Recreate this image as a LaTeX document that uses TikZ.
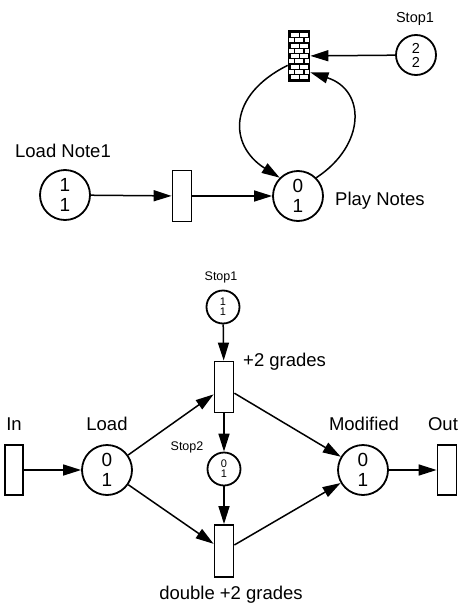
\documentclass[tikz,border=0pt]{standalone}
\usepackage{fontspec}
\setmainfont{Liberation Sans}
\usetikzlibrary{arrows.meta,calc}
\tikzset{
  place/.style={circle,draw,line width=1.8pt,minimum size=50pt,inner sep=0pt,align=center,font=\fontsize{19}{20}\selectfont},
  smallplace/.style={place,minimum size=33pt,font=\fontsize{11}{10}\selectfont},
  midplace/.style={place,minimum size=40pt,font=\fontsize{14.5}{14}\selectfont},
  trans/.style={rectangle,draw,line width=1.8pt,minimum width=19pt,minimum height=51pt,inner sep=0pt},
  arc/.style={line width=1.5pt,-{Triangle[length=18pt,width=11pt]}},
  lbl/.style={font=\fontsize{18.5}{20}\selectfont,inner sep=0pt},
  slbl/.style={font=\fontsize{12.5}{14}\selectfont,inner sep=0pt},
}
\begin{document}
\begin{tikzpicture}[x=1pt,y=1pt]
\useasboundingbox (0,0) rectangle (460,-605);
% ---------- top net ----------
\node[place] (lnote) at (65,-195) {1\\1};
\node[trans] (t0) at (182,-196) {};
\node[place] (pn) at (298,-196) {0\\1};
\node[trans,minimum width=21pt,minimum height=51pt,fill=black,
  path picture={
    \foreach \j in {0,...,9}{
      \pgfmathsetmacro{\off}{mod(\j,2)*4.75}
      \foreach \k in {-1,...,2}{
        \fill[white] ([xshift=\off pt+\k*9.5pt+2pt,yshift=-\j*5.3pt-2.4pt]path picture bounding box.north west) rectangle ++(8,-4);
      }
    }
  }] (brick) at (299,-56) {};
\node[midplace] (stopA) at (416,-55) {2\\2};
\node[lbl,anchor=base] (llnote) at (63,-157) {Load Note1};
\node[lbl,anchor=base west] (lpn) at (335,-205) {Play Notes};
\node[font=\fontsize{14.5}{16}\selectfont,inner sep=0pt,anchor=base] (lstopA) at (415,-23) {Stop1};
\draw[arc] (lnote) -- (t0);
\draw[arc] (t0) -- (pn);
\draw[arc] (stopA) -- (brick);
\draw[arc] ($(brick.south west)+(0,17)$) .. controls (228,-95) and (228,-145) .. (pn.135);
\draw[arc] (pn.45) .. controls (366,-145) and (366,-90) .. ($(brick.south east)+(0,10)$);
% ---------- bottom net ----------
\node[smallplace] (stopB) at (223,-307) {1\\1};
\node[trans] (t1) at (224,-387) {};
\node[trans,minimum width=18pt,minimum height=50pt] (in) at (14,-470) {};
\node[place] (load) at (107,-470) {0\\1};
\node[smallplace] (stop2) at (224,-469) {0\\1};
\node[place] (mod) at (363,-470) {0\\1};
\node[trans,minimum width=19pt,minimum height=50pt] (out) at (447,-470) {};
\node[trans,minimum height=52pt] (t2) at (224,-551) {};
\node[slbl,anchor=base] (lstopB) at (221,-280) {Stop1};
\node[lbl,anchor=base west] (lt1) at (243,-366) {+2 grades};
\node[lbl,anchor=base] (lin) at (14,-430) {In};
\node[lbl,anchor=base] (lload) at (107,-430) {Load};
\node[slbl,anchor=base] (lstop2) at (187,-450) {Stop2};
\node[lbl,anchor=base] (lmod) at (364,-430) {Modified};
\node[lbl,anchor=base] (lout) at (443,-430) {Out};
\node[lbl,anchor=base] (lt2) at (231,-599) {double +2 grades};
\draw[arc] (stopB) -- (t1);
\draw[arc] (in) -- (load);
\draw[arc] (load) -- (t1);
\draw[arc] (load) -- (t2);
\draw[arc] (t1) -- (stop2);
\draw[arc] (stop2) -- (t2);
\draw[arc] (t1) -- (mod);
\draw[arc] (t2) -- (mod);
\draw[arc] (mod) -- (out);
\end{tikzpicture}
\end{document}
